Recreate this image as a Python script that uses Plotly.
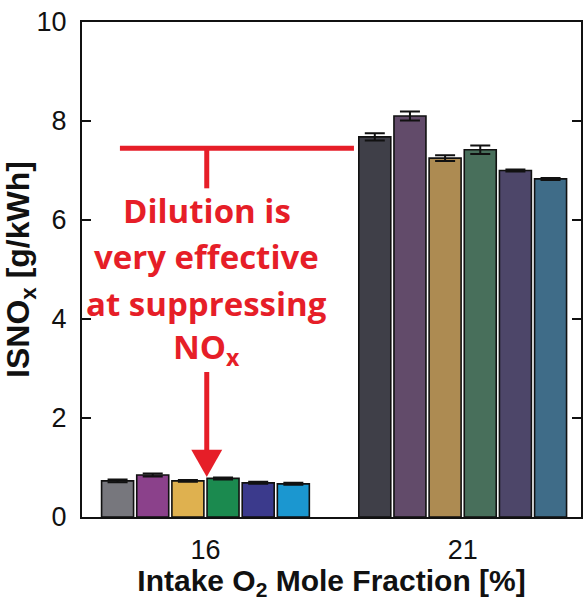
import plotly.graph_objects as go

# Intake O2 mole fraction categories
o2_levels = ["16", "21"]

# ISNOx [g/kWh] for six operating cases at each O2 level
case1 = [0.73, 7.68]
case2 = [0.85, 8.10]
case3 = [0.73, 7.25]
case4 = [0.78, 7.42]
case5 = [0.69, 7.00]
case6 = [0.67, 6.83]
values = [case1, case2, case3, case4, case5, case6]

# symmetric error bars
err1 = [0.03, 0.075]
err2 = [0.03, 0.09]
err3 = [0.02, 0.06]
err4 = [0.02, 0.085]
err5 = [0.02, 0.02]
err6 = [0.02, 0.02]
errors = [err1, err2, err3, err4, err5, err6]

# bar fills: (16 %, 21 %) for each case
colors = [
    ["#77777d", "#3f3f48"],
    ["#8b418b", "#624b6a"],
    ["#dfb14f", "#ad8b52"],
    ["#1b8a4f", "#486f5b"],
    ["#3b3a8c", "#4d4669"],
    ["#1b97d0", "#3f6c88"],
]

RED = "#e61e28"
INK = "#111111"

fig = go.Figure()
for vals, errs, cols in zip(values, errors, colors):
    fig.add_trace(go.Bar(
        x=o2_levels, y=vals,
        marker=dict(color=cols, line=dict(color=INK, width=1.6)),
        error_y=dict(type="data", array=errs, visible=True,
                     color=INK, thickness=2, width=10),
        showlegend=False,
    ))

fig.update_layout(
    width=586, height=601,
    margin=dict(l=82, r=3, t=22, b=84),
    paper_bgcolor="white", plot_bgcolor="white",
    barmode="group", bargap=0.18, bargroupgap=0.09,
    font=dict(family="Liberation Sans, Arial", color=INK),
)

fig.update_xaxes(
    type="category", range=[-0.48, 1.46],
    showline=True, linecolor=INK, linewidth=2, mirror=True,
    ticks="", showgrid=False,
    tickfont=dict(size=27), ticklabelstandoff=8,
    title=dict(text="<b>Intake O<sub>2</sub> Mole Fraction [%]</b>",
               font=dict(size=30), standoff=5),
)
fig.update_yaxes(
    range=[0, 10], tickvals=[0, 2, 4, 6, 8, 10],
    showline=True, linecolor=INK, linewidth=2, mirror="ticks",
    ticks="inside", ticklen=9, tickwidth=2, tickcolor=INK,
    showgrid=False, zeroline=False,
    tickfont=dict(size=27), ticklabelstandoff=8,
    title=dict(text="<b>ISNO<sub>x</sub> [g/kWh]</b>",
               font=dict(size=32), standoff=3),
)

# red callout: horizontal bar with a stem, text block and a downward arrow
fig.add_shape(type="line", xref="paper", yref="y",
              x0=0.076, x1=0.545, y0=7.45, y1=7.45,
              line=dict(color=RED, width=5))
fig.add_shape(type="line", xref="paper", yref="y",
              x0=0.25, x1=0.25, y0=7.45, y1=6.64,
              line=dict(color=RED, width=5))
fig.add_shape(type="line", xref="paper", yref="y",
              x0=0.25, x1=0.25, y0=2.93, y1=1.30,
              line=dict(color=RED, width=5))
fig.add_shape(type="path", xref="paper", yref="y",
              path="M 0.219 1.36 L 0.281 1.36 L 0.25 0.81 Z",
              fillcolor=RED, line=dict(color=RED, width=0))

lines = ["Dilution is", "very effective", "at suppressing", "NO<sub>x</sub>"]
line_y = [6.2, 5.27, 4.32, 3.40]
for txt, yv in zip(lines, line_y):
    fig.add_annotation(xref="paper", yref="y", x=0.25, y=yv,
                       text="<b>" + txt + "</b>", showarrow=False,
                       font=dict(family="Open Sans", size=33, color=RED),
                       xanchor="center", yanchor="middle")

fig.write_html("out.html")
